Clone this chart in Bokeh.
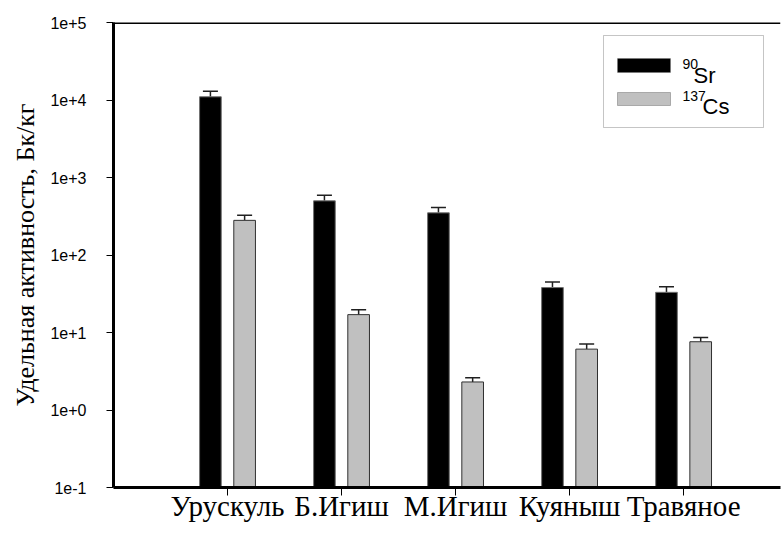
from bokeh.plotting import figure
from bokeh.models import (Range1d, FixedTicker, Whisker, TeeHead, ColumnDataSource,
                          Span, BoxAnnotation, Label)
from bokeh.embed import file_html
from bokeh.resources import INLINE

categories = ["Урускуль", "Б.Игиш", "М.Игиш", "Куяныш", "Травяное"]
sr90 = [11000, 500, 350, 38, 33]
sr90_err = [13000, 590, 410, 45, 39]
cs137 = [280, 17, 2.3, 6.1, 7.6]
cs137_err = [325, 19.6, 2.6, 7.1, 8.6]
series_names = [("90", "Sr"), ("137", "Cs")]
y_ticks = [0.1, 1, 10, 100, 1000, 10000, 100000]
y_tick_labels = ["1e-1", "1e+0", "1e+1", "1e+2", "1e+3", "1e+4", "1e+5"]

pos = [i + 1 for i in range(len(categories))]
dodge = 0.15
bar_w = 0.19
sr_color, cs_color = "black", "#c0c0c0"

src_sr = ColumnDataSource(dict(x=[q - dodge for q in pos], top=sr90, err=sr90_err))
src_cs = ColumnDataSource(dict(x=[q + dodge for q in pos], top=cs137, err=cs137_err))

p = figure(width=784, height=536, y_axis_type="log",
           x_range=Range1d(0, 5.85), y_range=Range1d(y_ticks[0], y_ticks[-1]),
           output_backend="svg", toolbar_location=None,
           min_border_left=113, min_border_right=4, min_border_top=22, min_border_bottom=49)
p.outline_line_color = None
p.xgrid.visible = False
p.ygrid.visible = False
p.background_fill_color = "white"

r_sr = p.vbar(x="x", top="top", bottom=y_ticks[0], width=bar_w, source=src_sr,
              fill_color=sr_color, line_color="#707070", line_width=1)
r_cs = p.vbar(x="x", top="top", bottom=y_ticks[0], width=bar_w, source=src_cs,
              fill_color=cs_color, line_color="#303030", line_width=1)

for src in (src_sr, src_cs):
    w = Whisker(source=src, base="x", lower="top", upper="err", dimension="height",
                line_color="#202020", line_width=1.5,
                upper_head=TeeHead(size=15, line_color="#202020", line_width=1.5),
                lower_head=None)
    p.add_layout(w)

top_line = Span(location=y_ticks[-1], dimension="width", line_color="black", line_width=3)
p.add_layout(top_line)

# axes
p.yaxis.ticker = FixedTicker(ticks=y_ticks)
p.yaxis.major_label_overrides = {t: l for t, l in zip(y_ticks, y_tick_labels)}
p.yaxis.minor_tick_line_color = None
p.yaxis.major_tick_in = 0
p.yaxis.major_tick_out = 7
p.yaxis.major_tick_line_width = 1
p.yaxis.axis_line_width = 3
p.yaxis.major_label_text_font = "Liberation Sans"
p.yaxis.major_label_text_font_size = "16px"
p.yaxis.major_label_text_color = "black"
p.yaxis.major_label_standoff = 20
p.yaxis.axis_label = "Удельная активность, Бк/кг"
p.yaxis.axis_label_text_font = "Liberation Serif"
p.yaxis.axis_label_text_font_style = "normal"
p.yaxis.axis_label_text_font_size = "26px"
p.yaxis.axis_label_text_color = "black"
p.yaxis.axis_label_standoff = 7

p.xaxis.ticker = FixedTicker(ticks=pos)
p.xaxis.major_label_overrides = {t: c for t, c in zip(pos, categories)}
p.xaxis.minor_tick_line_color = None
p.xaxis.major_tick_in = 0
p.xaxis.major_tick_out = 8
p.xaxis.major_tick_line_width = 1
p.xaxis.axis_line_width = 3
p.xaxis.major_label_text_font = "Liberation Serif"
p.xaxis.major_label_text_font_size = "29px"
p.xaxis.major_label_text_color = "black"
p.xaxis.major_label_standoff = -6

# legend (screen units, relative to the plot frame)
p.add_layout(BoxAnnotation(left=490, right=650, bottom=360, top=452,
                           left_units="screen", right_units="screen",
                           bottom_units="screen", top_units="screen",
                           fill_color="white", fill_alpha=1,
                           line_color="#404040", line_width=1, level="overlay"))
swatches = [(sr_color, "#707070", 415, 429), (cs_color, "#303030", 382, 395)]
for fc, lc, b, t in swatches:
    p.add_layout(BoxAnnotation(left=504, right=557, bottom=b, top=t,
                               left_units="screen", right_units="screen",
                               bottom_units="screen", top_units="screen",
                               fill_color=fc, fill_alpha=1, line_color=lc,
                               line_width=1, level="overlay"))
label_pos = [((569, 424), (580, 412)), ((569, 392), (589, 381))]
for (sup, base), ((sx, sy), (bx, by)) in zip(series_names, label_pos):
    p.add_layout(Label(x=sx, y=sy, x_units="screen", y_units="screen", text=sup,
                       text_font="Liberation Sans", text_font_size="14px",
                       text_baseline="alphabetic", text_color="black", level="overlay"))
    p.add_layout(Label(x=bx, y=by, x_units="screen", y_units="screen", text=base,
                       text_font="Liberation Sans", text_font_size="22px",
                       text_baseline="alphabetic", text_color="black", level="overlay"))

open("out.html", "w").write(file_html(p, INLINE))
